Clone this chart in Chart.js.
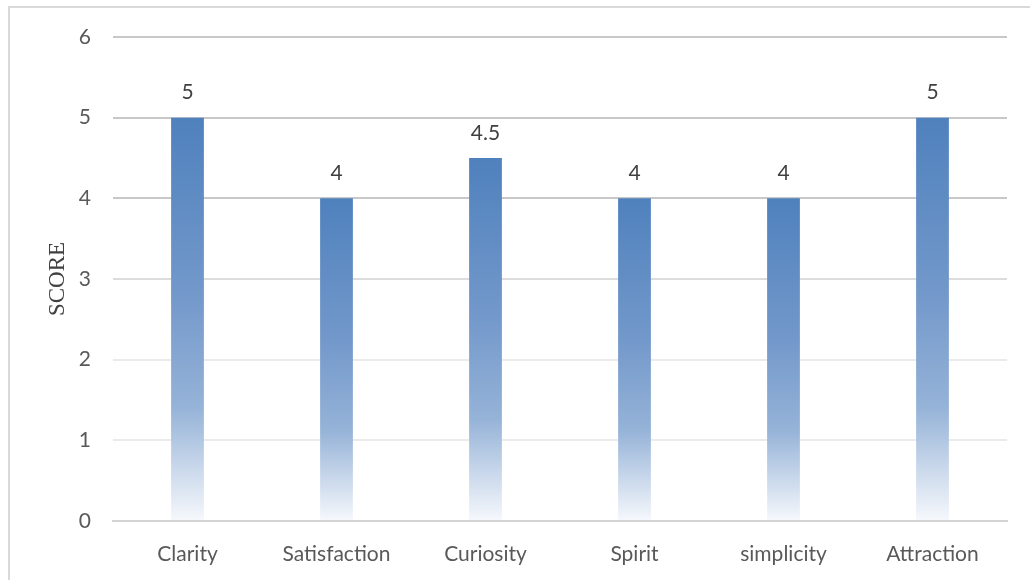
<!DOCTYPE html>
<html>
<head>
<meta charset="utf-8">
<script src="https://cdn.jsdelivr.net/npm/chart.js@4.4.0/dist/chart.umd.min.js"></script>
<style>
  html, body { margin: 0; padding: 0; background: #fff; overflow: hidden; }
  #frame { position: absolute; left: 8px; top: 6px; width: 1040px; height: 600px; border: 2px solid #d9d9d9; }
  #wrap { position: absolute; left: 0; top: 0; width: 1030px; height: 580px; }
</style>
</head>
<body>
<div id="frame"></div>
<div id="wrap"><canvas id="chartContainer"></canvas></div>
<script>
// categories and scores
var categories = ['Clarity', 'Satisfaction', 'Curiosity', 'Spirit', 'simplicity', 'Attraction'];
var scores = [5, 4, 4.5, 4, 4, 5];
var yTicks = [0, 1, 2, 3, 4, 5, 6];

// each bar fades from blue at its top to white at the base
function barGradient(context) {
    var chart = context.chart;
    var y = chart.scales.y;
    if (!y || !chart.chartArea) return '#4f81bd';
    var v = context.raw;
    var top = y.getPixelForValue(v);
    var base = y.getPixelForValue(0);
    var g = chart.ctx.createLinearGradient(0, top, 0, base);
    g.addColorStop(0, 'rgb(79,129,189)');
    g.addColorStop(0.45, 'rgb(116,153,203)');
    g.addColorStop(0.72, 'rgb(150,179,216)');
    g.addColorStop(1, 'rgb(246,248,252)');
    return g;
}

var valueLabels = {
    id: 'valueLabels',
    afterDatasetsDraw: function (chart) {
        var ctx = chart.ctx;
        var meta = chart.getDatasetMeta(0);
        ctx.save();
        ctx.font = '21px Lato';
        ctx.fillStyle = '#404040';
        ctx.textAlign = 'center';
        ctx.textBaseline = 'middle';
        meta.data.forEach(function (bar, i) {
            ctx.fillText(String(scores[i]), bar.x, bar.y - 25);
        });
        ctx.restore();
    }
};

function gridColor(c) {
    var v = c.tick.value;
    if (v >= 4) return '#c8c8c8';
    if (v == 3) return '#dcdcdc';
    if (v == 0) return '#d4d4d4';
    return '#ebebeb';
}

var ctx = document.getElementById('chartContainer').getContext('2d');
var myChart = new Chart(ctx, {
    type: 'bar',
    data: {
        labels: categories,
        datasets: [{
            label: 'SCORE',
            data: scores,
            backgroundColor: barGradient,
            borderWidth: 0,
            categoryPercentage: 1,
            barPercentage: 0.22
        }]
    },
    options: {
        responsive: true,
        maintainAspectRatio: false,
        animation: false,
        layout: { padding: { top: 37, right: 23, bottom: 0, left: 0 } },
        plugins: {
            legend: { display: false },
            tooltip: { enabled: false }
        },
        scales: {
            x: {
                grid: { display: false, drawTicks: false },
                border: { display: true, color: '#d4d4d4', width: 2 },
                ticks: { color: '#595959', font: { family: 'Lato', size: 21 }, padding: 21, maxRotation: 0 },
                afterFit: function (s) { s.height = 59; }
            },
            y: {
                min: 0,
                max: 6,
                afterBuildTicks: function (s) { s.ticks = yTicks.map(function (v) { return { value: v }; }); },
                grid: { color: gridColor, lineWidth: 2, drawTicks: false },
                border: { display: false },
                ticks: { color: '#595959', font: { family: 'Lato', size: 21 }, padding: 22 },
                title: {
                    display: true,
                    text: 'SCORE',
                    color: '#404040',
                    font: { family: 'Liberation Serif', size: 23 },
                    padding: { top: 44, bottom: 0 }
                },
                afterFit: function (s) { s.width = 113; }
            }
        }
    },
    plugins: [valueLabels]
});
</script>
</body>
</html>
